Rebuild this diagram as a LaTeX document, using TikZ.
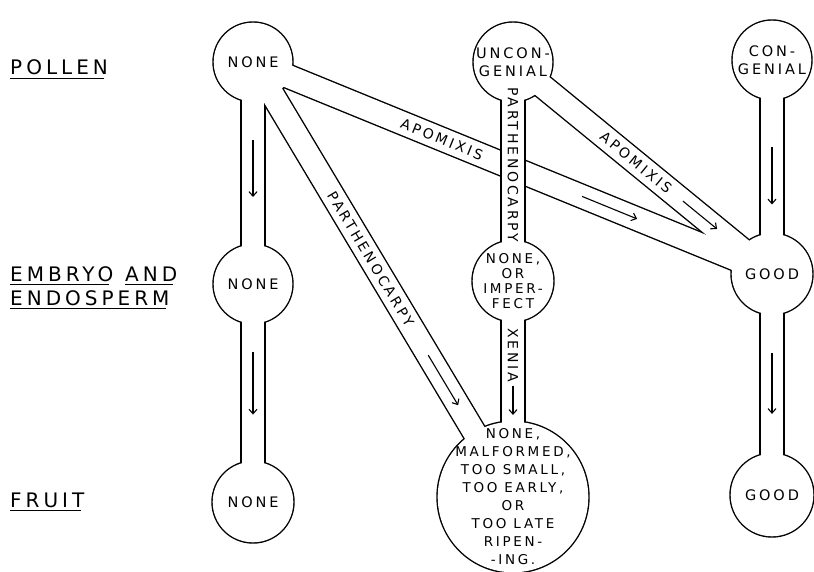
\documentclass[tikz,border=0pt]{standalone}
\usepackage{fontspec}
\usetikzlibrary{arrows.meta,calc}
\newfontfamily\lett[LetterSpace=20]{DejaVu Sans}
\pgfdeclarelayer{tubeb}\pgfdeclarelayer{tubew}\pgfdeclarelayer{fix}
\pgfsetlayers{tubeb,tubew,fix,main}
\newcommand\myblob[2]{%
  \begin{pgfonlayer}{tubeb}\fill[black] (#1.center) circle[radius=#2pt+0.7pt];\end{pgfonlayer}%
  \begin{pgfonlayer}{tubew}\fill[white] (#1.center) circle[radius=#2pt-0.7pt];\end{pgfonlayer}}
\newcommand\mytube[2]{%
  \begin{pgfonlayer}{tubeb}\draw[tubeout] (#1.center) -- (#2.center);\end{pgfonlayer}%
  \begin{pgfonlayer}{tubew}\draw[tubein] (#1.center) -- (#2.center);\end{pgfonlayer}}
\begin{document}
\begin{tikzpicture}[x=1pt,y=-1pt,
  circtext/.style={font=\lett\fontsize{14.5}{18}\selectfont, align=center, inner sep=0pt},
  rowlab/.style={font=\lett\fontsize{20}{24}\selectfont, anchor=base west, inner sep=0pt},
  chtext/.style={font=\lett\fontsize{14}{15}\selectfont, inner sep=0pt},
  tubeout/.style={line width=25.4pt, black},
  tubein/.style={line width=22.6pt, white},
  flow/.style={line width=1.1pt, -{Straight Barb[length=4.5pt,width=8pt]}},
  uline/.style={line width=1.2pt}]
\useasboundingbox (0,0) rectangle (814,572);
\begin{pgfonlayer}{tubeb}\fill[white] (0,0) rectangle (814,572);\end{pgfonlayer}

% row labels
\node[rowlab] (pol) at (10,75) {POLLEN};
\node[rowlab] (emb) at (10,281) {EMBRYO};
\node[rowlab] (and) at (125,281) {AND};
\node[rowlab] (endo) at (10,305) {ENDOSPERM};
\node[rowlab] (fru) at (10,507) {FRUIT};
\foreach \n in {pol,emb,and,endo,fru}
  \draw[uline] ([yshift=-3.5pt]\n.base west) -- ([xshift=-4pt,yshift=-3.5pt]\n.base east);

% circle nodes
\node[circtext] (pn) at (253,62) {NONE};
\node[circtext] (pu) at (513,62) {UNCON-\\GENIAL};
\node[circtext] (pc) at (772,60) {CON-\\GENIAL};
\node[circtext] (en) at (253,284) {NONE};
\node[circtext, font=\lett\fontsize{13.5}{15}\selectfont] (ei) at (513,281) {NONE,\\OR\\IMPER-\\FECT};
\node[circtext] (eg) at (772,274) {GOOD};
\node[circtext] (fn) at (253,502) {NONE};
\node[circtext, font=\lett\fontsize{13.5}{18}\selectfont] (fb) at (513,497) {NONE,\\MALFORMED,\\TOO SMALL,\\TOO EARLY,\\OR\\TOO LATE\\RIPEN-\\-ING.};
\node[circtext] (fg) at (772,495) {GOOD};

% tube outlines
\myblob{pn}{40}\myblob{pu}{40}\myblob{pc}{40}
\myblob{en}{40}\myblob{ei}{41}\myblob{eg}{41}
\myblob{fn}{41}\myblob{fb}{76}\myblob{fg}{42}
\mytube{pn}{en}\mytube{en}{fn}\mytube{pn}{fb}\mytube{pn}{eg}
\mytube{pu}{ei}\mytube{pu}{eg}\mytube{ei}{fb}\mytube{pc}{eg}\mytube{eg}{fg}
% vertical tube passes over the apomixis tube
\begin{pgfonlayer}{fix}
  \draw[tubeout] ($(pu.center)+(0,48)$) -- ($(ei.center)+(0,-50)$);
  \draw[tubein] ($(pu.center)+(0,48)$) -- ($(ei.center)+(0,-50)$);
\end{pgfonlayer}

% channel labels
\path (pn.center) -- (fb.center) node[chtext, pos=0.453, rotate=-59.1] (lp1) {PARTHENOCARPY};
\path (pn.center) -- (eg.center) node[chtext, pos=0.364, rotate=-22.2] (la1) {APOMIXIS};
\path (pu.center) -- (eg.center) node[chtext, pos=0.475, rotate=-39.3] (la2) {APOMIXIS};
\path (pu.center) -- (ei.center) node[chtext, pos=0.47, rotate=-90] (lp2) {PARTHENOCARPY};
\path (ei.center) -- (fb.center) node[chtext, pos=0.343, rotate=-90] (lx) {XENIA};

% flow arrows
\draw[flow] ($(pn.center)!0.351!(en.center)$) -- ($(pn.center)!0.608!(en.center)$);
\draw[flow] ($(en.center)!0.312!(fn.center)$) -- ($(en.center)!0.599!(fn.center)$);
\draw[flow] ($(pn.center)!0.674!(fb.center)$) -- ($(pn.center)!0.789!(fb.center)$);
\draw[flow] ($(pn.center)!0.634!(eg.center)$) -- ($(pn.center)!0.740!(eg.center)$);
\draw[flow] ($(pu.center)!0.656!(eg.center)$) -- ($(pu.center)!0.788!(eg.center)$);
\draw[flow] ($(pc.center)!0.406!(eg.center)$) -- ($(pc.center)!0.675!(eg.center)$);
\draw[flow] ($(eg.center)!0.357!(fg.center)$) -- ($(eg.center)!0.633!(fg.center)$);
\draw[flow] ($(ei.center)!0.486!(fb.center)$) -- ($(ei.center)!0.620!(fb.center)$);
\end{tikzpicture}
\end{document}
